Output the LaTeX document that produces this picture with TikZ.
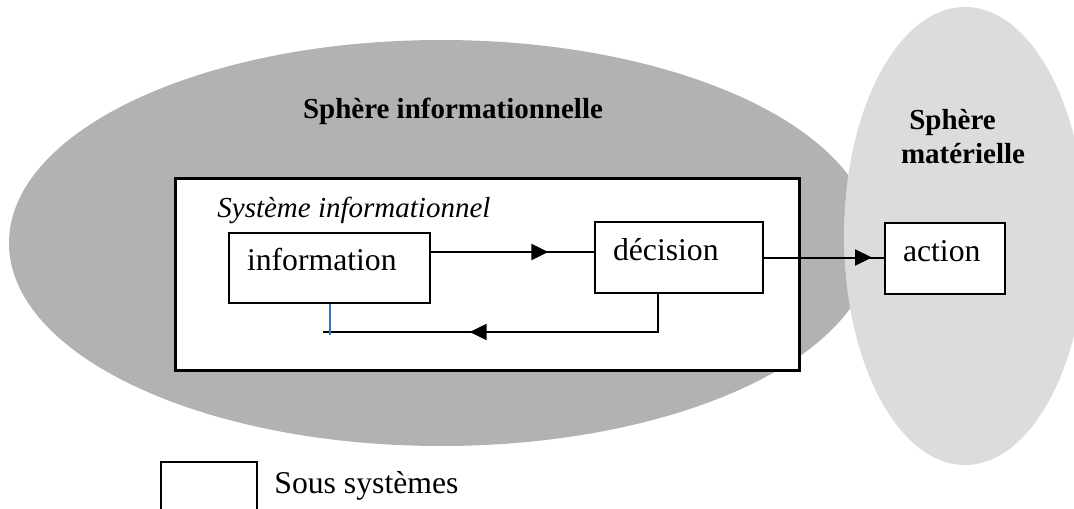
\documentclass[tikz,border=0pt]{standalone}
\usepackage{fontspec}
\setmainfont{Liberation Serif}
\usetikzlibrary{arrows.meta,decorations.markings}
\definecolor{darkgr}{HTML}{B2B2B2}
\definecolor{lightgr}{HTML}{DCDCDC}
\definecolor{fbblue}{HTML}{3F73B8}
\begin{document}
\begin{tikzpicture}[x=0.5pt,y=-0.5pt,
  sbox/.style={draw, line width=1pt, fill=white, align=left, inner xsep=9pt, inner ysep=0pt,
    text height=5.5pt, text depth=3pt, font=\fontsize{15.85}{19}\selectfont},
  outerbox/.style={draw, line width=1.3pt, fill=white, inner sep=0pt, minimum width=312pt, minimum height=96pt},
  conn/.style={line width=1pt},
  arrowat/.style={postaction={decorate}, decoration={markings,
    mark=at position #1 with {\arrow{Triangle[length=8.5pt,width=8pt]}}}},
  lbl/.style={inner sep=0pt},
  boldf/.style={font=\bfseries\fontsize{14.5}{17}\selectfont},
  regf/.style={font=\fontsize{15.85}{19}\selectfont}
]
\useasboundingbox (0,0) rectangle (1074,508);
\clip (0,0) rectangle (1074,508);
% spheres
\fill[darkgr] (441,243) ellipse [x radius=432, y radius=203];
\fill[lightgr] (965,236) ellipse [x radius=121, y radius=229];
% system box
\node[outerbox, anchor=north west] (sys) at (174,177) {};
% subsystem boxes
\node[sbox, text width=82.5pt, minimum height=35pt] (info) at (329.5,268) {information};
\node[sbox, text width=66pt, minimum height=35.5pt] (dec) at (679,257.5) {décision};
\node[sbox, text width=42pt, minimum height=35.5pt] (act) at (945,258.5) {action};
% texts
\node[lbl, anchor=base, boldf] (tsi) at (453,119) {Sphère informationnelle};
\node[lbl, anchor=base, boldf] (tsm1) at (952.5,129) {Sphère};
\node[lbl, anchor=base, boldf] (tsm2) at (963,163) {matérielle};
\node[lbl, anchor=base west, font=\itshape\fontsize{14.5}{17}\selectfont] (tsys) at (217,217) {Système informationnel};
% legend
\node[draw, line width=1pt, inner sep=0pt, minimum width=48pt, minimum height=40pt, anchor=north west] (leg) at (160,461) {};
\node[lbl, anchor=base west, regf] (legt) at (274,493) {Sous systèmes};
% connectors
\coordinate (ia) at ([yshift=8pt]info.east);
\draw[conn, arrowat=0.72] (ia) -- (ia -| dec.west);
\draw[conn, arrowat=0.9] (dec.east) -- (dec.east -| act.west);
\coordinate (fb) at ([xshift=-10.5pt]dec.south);
\coordinate (fbend) at (323,332);
\draw[conn, arrowat=0.607] (fb) |- (fbend);
\draw[fbblue, line width=1pt] (info.south) -- ++(0,31);
\end{tikzpicture}
\end{document}
